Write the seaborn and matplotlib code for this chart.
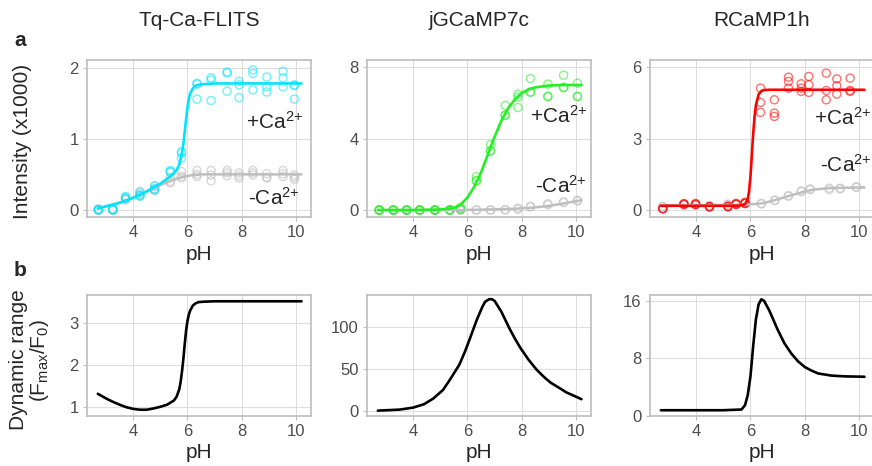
import numpy as np
import pandas as pd
import matplotlib
matplotlib.use("Agg")
import matplotlib.pyplot as plt
import seaborn as sns

# --- data ---
TITLES = ["Tq-Ca-FLITS", "jGCaMP7c", "RCaMP1h"]
COLORS = ["#00E5FF", "#22F022", "#FF0000"]
GRAY = "#BEBEBE"

# Tq-Ca-FLITS raw points (intensity x1000)
tq_ph = [2.72, 3.25, 3.72, 4.25, 4.79, 5.37, 5.78, 6.35, 6.87, 7.46, 7.9, 8.41, 8.92, 9.52, 9.94]
tq_ca_r1 = [0.01, 0.0, 0.19, 0.245, 0.34, 0.555, 0.82, 1.78, 1.86, 1.94, 1.81, 1.97, 1.87, 1.95, 1.76]
tq_ca_r2 = [0.0, 0.0, 0.17, 0.21, 0.30, 0.54, 0.80, 1.77, 1.83, 1.93, 1.76, 1.92, 1.73, 1.86, 1.75]
tq_ca_r3 = [0.0, 0.01, 0.16, 0.19, 0.28, 0.53, 0.73, 1.56, 1.54, 1.67, 1.58, 1.69, 1.66, 1.73, 1.56]
tq_free_r1 = [0.01, 0.0, 0.17, 0.26, 0.33, 0.46, 0.54, 0.555, 0.555, 0.555, 0.52, 0.555, 0.51, 0.555, 0.49]
tq_free_r2 = [0.0, 0.0, 0.15, 0.22, 0.29, 0.40, 0.47, 0.50, 0.49, 0.52, 0.48, 0.52, 0.46, 0.51, 0.46]
tq_free_r3 = [0.0, 0.01, 0.14, 0.20, 0.27, 0.38, 0.45, 0.47, 0.41, 0.48, 0.45, 0.49, 0.45, 0.47, 0.43]

# jGCaMP7c raw points
jg_ph = [2.75, 3.27, 3.76, 4.24, 4.8, 5.35, 5.75, 6.33, 6.85, 7.39, 7.86, 8.32, 8.96, 9.54, 10.05]
jg_ca_r1 = [0.0, 0.0, 0.0, 0.0, 0.0, 0.02, 0.15, 1.87, 3.66, 5.85, 6.49, 7.36, 7.05, 7.55, 7.1]
jg_ca_r2 = [0.0, 0.0, 0.0, 0.0, 0.0, 0.0, 0.05, 1.64, 3.31, 5.31, 6.32, 6.6, 6.36, 6.86, 6.36]
jg_ca_r3 = [0.0, 0.0, 0.0, 0.0, 0.0, 0.0, 0.05, 1.64, 3.31, 5.31, 5.74, 6.6, 6.36, 6.86, 6.36]
jg_free_r1 = [0.0, 0.0, 0.0, 0.0, 0.0, 0.0, 0.0, 0.0, 0.0, 0.02, 0.1, 0.2, 0.35, 0.45, 0.55]
jg_free_r2 = [0.0, 0.0, 0.0, 0.0, 0.0, 0.0, 0.0, 0.0, 0.0, 0.01, 0.05, 0.17, 0.3, 0.42, 0.5]

# RCaMP1h raw points
rc_ph = [2.77, 3.55, 3.98, 4.49, 5.17, 5.47, 5.8, 6.37, 6.88, 7.4, 7.87, 8.15, 8.79, 9.18, 9.67]
rc_ca_r1 = [0.06, 0.27, 0.28, 0.14, 0.17, 0.28, 0.33, 5.12, 4.63, 5.58, 5.3, 5.61, 5.75, 5.51, 5.54]
rc_ca_r2 = [0.06, 0.25, 0.24, 0.14, 0.14, 0.24, 0.28, 4.52, 4.07, 5.4, 5.12, 5.26, 5.02, 5.22, 5.02]
rc_ca_r3 = [0.06, 0.25, 0.24, 0.14, 0.14, 0.24, 0.28, 4.1, 3.93, 5.12, 4.98, 4.94, 4.63, 4.87, 4.98]
rc_free_ph = [2.77, 3.55, 3.98, 4.49, 5.17, 5.47, 5.8, 6.4, 6.9, 7.4, 7.87, 8.2, 8.9, 9.3, 9.9]
rc_free_r1 = [0.15, 0.2, 0.22, 0.2, 0.25, 0.28, 0.3, 0.28, 0.42, 0.61, 0.81, 0.89, 0.86, 0.89, 0.98]
rc_free_r2 = [0.15, 0.2, 0.2, 0.18, 0.22, 0.25, 0.27, 0.26, 0.4, 0.58, 0.77, 0.86, 0.92, 0.92, 0.95]

# fitted curves
tq_fit_ph = [2.7, 3.0, 3.5, 4.0, 4.5, 5.0, 5.4, 5.6, 5.7, 5.8, 5.85, 5.9, 5.95, 6.0, 6.05,
             6.1, 6.2, 6.3, 6.4, 6.6, 7.0, 8.0, 9.0, 10.2]
tq_fit_ca = [0.02, 0.05, 0.1, 0.17, 0.26, 0.37, 0.48, 0.56, 0.64, 0.8, 0.93, 1.1, 1.28, 1.44, 1.56,
             1.64, 1.71, 1.75, 1.76, 1.77, 1.78, 1.78, 1.78, 1.78]
tq_fit_free = [0.02, 0.05, 0.1, 0.17, 0.26, 0.35, 0.41, 0.44, 0.45, 0.46, 0.465, 0.47, 0.475, 0.48, 0.48,
               0.485, 0.49, 0.49, 0.495, 0.5, 0.5, 0.5, 0.5, 0.5]

jg_fit_ph = [2.7, 4.0, 5.0, 5.5, 5.75, 6.0, 6.25, 6.5, 6.75, 7.0, 7.25, 7.5, 7.75, 8.0, 8.25,
             8.5, 9.0, 9.5, 10.2]
jg_fit_ca = [0.0, 0.0, 0.03, 0.12, 0.3, 0.7, 1.3, 2.1, 3.1, 4.1, 5.0, 5.7, 6.2, 6.55, 6.75,
             6.87, 6.97, 7.0, 7.0]
jg_fit_free = [0.0, 0.0, 0.0, 0.0, 0.0, 0.01, 0.01, 0.02, 0.03, 0.04, 0.05, 0.06, 0.07, 0.1, 0.12,
               0.15, 0.23, 0.36, 0.55]

rc_fit_ph = [2.7, 4.0, 5.0, 5.6, 5.8, 5.9, 5.95, 6.0, 6.05, 6.1, 6.15, 6.2, 6.3, 6.4, 6.5,
             6.7, 7.0, 8.0, 9.0, 10.2]
rc_fit_ca = [0.18, 0.18, 0.18, 0.19, 0.25, 0.45, 0.8, 1.4, 2.3, 3.2, 3.9, 4.4, 4.85, 5.0, 5.04,
             5.05, 5.05, 5.05, 5.05, 5.05]
rc_free_fit_ph = [2.7, 5.0, 5.8, 6.1, 6.4, 6.65, 6.9, 7.15, 7.4, 7.65, 7.9, 8.3, 8.9, 9.5, 10.2]
rc_free_fit = [0.2, 0.21, 0.23, 0.25, 0.28, 0.34, 0.42, 0.5, 0.59, 0.67, 0.75, 0.86, 0.92, 0.94, 0.95]

# dynamic range curves
tq_dr_ph = [2.7, 3.0, 3.25, 3.5, 3.75, 4.0, 4.25, 4.5, 4.75, 5.0, 5.25, 5.5, 5.6, 5.7, 5.75,
            5.8, 5.85, 5.9, 5.95, 6.0, 6.05, 6.1, 6.2, 6.3, 6.4, 6.6, 7.0, 10.2]
tq_dr = [1.31, 1.2, 1.12, 1.05, 0.99, 0.95, 0.93, 0.93, 0.96, 1.0, 1.05, 1.15, 1.24, 1.42, 1.6,
         1.85, 2.15, 2.5, 2.82, 3.05, 3.2, 3.3, 3.42, 3.47, 3.5, 3.51, 3.52, 3.52]

jg_dr_ph = [2.7, 3.5, 4.0, 4.4, 4.75, 5.1, 5.35, 5.7, 5.9, 6.1, 6.35, 6.55, 6.65, 6.8, 6.9, 7.0,
            7.25, 7.55, 7.75, 7.95, 8.25, 8.55, 8.8, 9.05, 9.35, 9.65, 10.2]
jg_dr = [0.4, 1.6, 4, 8, 15, 25, 37, 55, 70, 87, 109, 124, 130, 133, 133, 131,
         118, 98, 86, 75, 61, 49, 41, 34, 28, 22, 14]

rc_dr_ph = [2.7, 5.0, 5.67, 5.8, 5.9, 6.0, 6.1, 6.2, 6.3, 6.4, 6.5, 6.7, 7.0, 7.25, 7.5,
            7.75, 8.0, 8.25, 8.5, 9.0, 9.5, 10.2]
rc_dr = [0.8, 0.8, 0.9, 1.5, 2.9, 5.5, 9.7, 13.4, 15.5, 16.2, 16.0, 14.6, 12.0, 10.1, 8.7,
         7.6, 6.8, 6.3, 5.9, 5.6, 5.5, 5.45]


def points(ph, reps):
    return pd.DataFrame({"pH": np.tile(ph, len(reps)), "val": np.concatenate(reps)})


panels = [
    dict(ca=points(tq_ph, [tq_ca_r1, tq_ca_r2, tq_ca_r3]),
         free=points(tq_ph, [tq_free_r1, tq_free_r2, tq_free_r3]),
         fit_ca=(tq_fit_ph, tq_fit_ca), fit_free=(tq_fit_ph, tq_fit_free),
         dr=(tq_dr_ph, tq_dr), ylim=(-0.1, 2.11), yt=[0, 1, 2],
         dylim=(0.78, 3.67), dyt=[1, 2, 3],
         lab_ca=(9.2, 1.24), lab_free=(9.2, 0.17)),
    dict(ca=points(jg_ph, [jg_ca_r1, jg_ca_r2, jg_ca_r3]),
         free=points(jg_ph, [jg_free_r1, jg_free_r2]),
         fit_ca=(jg_fit_ph, jg_fit_ca), fit_free=(jg_fit_ph, jg_fit_free),
         dr=(jg_dr_ph, jg_dr), ylim=(-0.39, 8.4), yt=[0, 4, 8],
         dylim=(-6, 138), dyt=[0, 50, 100],
         lab_ca=(9.35, 5.3), lab_free=(9.45, 1.35)),
    dict(ca=points(rc_ph, [rc_ca_r1, rc_ca_r2, rc_ca_r3]),
         free=points(rc_free_ph, [rc_free_r1, rc_free_r2]),
         fit_ca=(rc_fit_ph, rc_fit_ca), fit_free=(rc_free_fit_ph, rc_free_fit),
         dr=(rc_dr_ph, rc_dr), ylim=(-0.29, 6.3), yt=[0, 3, 6],
         dylim=(0, 16.8), dyt=[0, 8, 16],
         lab_ca=(9.4, 3.87), lab_free=(9.5, 1.9)),
]

sns.set_theme(style="whitegrid")
plt.rcParams["font.family"] = ["Liberation Sans", "DejaVu Sans"]
plt.rcParams["mathtext.fontset"] = "custom"
plt.rcParams["mathtext.rm"] = "Liberation Sans"
plt.rcParams["mathtext.it"] = "Liberation Sans:italic"

W, H = 872, 466
fig = plt.figure(figsize=(W / 100, H / 100), dpi=100)
lefts = [87, 367, 650]
aw = 224
CA_PLUS = "+Ca$^{2{+}}$"
CA_MINUS = "-Ca$^{2{+}}$"


def style_ax(ax):
    ax.set_facecolor("white")
    ax.grid(True, color="#DEDEDE", lw=0.8)
    for s in ax.spines.values():
        s.set_color("#BDBDBD")
        s.set_linewidth(1.2)
    ax.tick_params(axis="both", labelsize=12, labelcolor="#4D4D4D", color="#BDBDBD",
                   length=3, width=0.8, pad=3, direction="out",
                   bottom=True, left=True)
    ax.set_xlim(2.3, 10.55)
    ax.set_xticks([4, 6, 8, 10])


for i, p in enumerate(panels):
    c = COLORS[i]
    ax = fig.add_axes([lefts[i] / W, 1 - 217 / H, aw / W, 157 / H])
    style_ax(ax)
    sns.scatterplot(data=p["free"], x="pH", y="val", ax=ax, marker="o", s=34,
                    color=GRAY, facecolor="none", edgecolor=GRAY, linewidth=1.0, alpha=0.6)
    sns.scatterplot(data=p["ca"], x="pH", y="val", ax=ax, marker="o", s=34,
                    color=c, facecolor="none", edgecolor=c, linewidth=1.0, alpha=0.55)
    sns.lineplot(x=p["fit_free"][0], y=p["fit_free"][1], ax=ax, color=GRAY, lw=1.8)
    sns.lineplot(x=p["fit_ca"][0], y=p["fit_ca"][1], ax=ax, color=c, lw=1.9)
    ax.set_ylim(*p["ylim"])
    ax.set_yticks(p["yt"])
    ax.set_xlabel("pH", fontsize=15, labelpad=3)
    ax.set_ylabel("")
    ax.text(*p["lab_ca"], CA_PLUS, fontsize=15, ha="center", va="center", clip_on=False)
    ax.text(*p["lab_free"], CA_MINUS, fontsize=15, ha="center", va="center", clip_on=False)
    fig.text((lefts[i] + aw / 2) / W, 1 - 20 / H, TITLES[i], fontsize=15, ha="center", va="center")

    bx = fig.add_axes([lefts[i] / W, 1 - 416 / H, aw / W, 121 / H])
    style_ax(bx)
    sns.lineplot(x=p["dr"][0], y=p["dr"][1], ax=bx, color="black", lw=1.9)
    bx.set_ylim(*p["dylim"])
    bx.set_yticks(p["dyt"])
    bx.set_xlabel("pH", fontsize=15, labelpad=3)
    bx.set_ylabel("")

fig.text(14 / W, 1 - 40 / H, "a", fontsize=15, fontweight="bold", ha="left", va="center")
fig.text(14 / W, 1 - 270 / H, "b", fontsize=15, fontweight="bold", ha="left", va="center")
fig.text(22 / W, 1 - 141 / H, "Intensity (x1000)", fontsize=15, rotation=90, ha="center", va="center")
fig.text(30 / W, 1 - 360 / H, "Dynamic range\n(F$_{\\mathrm{max}}$/F$_0$)", fontsize=15,
         rotation=90, ha="center", va="center", linespacing=1.0)

fig.savefig("out.png", dpi=100)
